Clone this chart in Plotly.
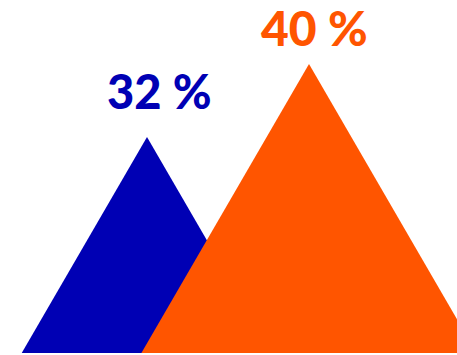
import plotly.graph_objects as go

categories = ["A", "B"]
values = [32, 40]
labels = ["32 %", "40 %"]
colors = ["#0000b4", "#ff5500"]

positions = list(range(len(categories)))
slope = 0.03267  # half-width (x units) per value unit

fig = go.Figure()
for pos, v, c in zip(positions, values, colors):
    hw = v * slope
    fig.add_trace(go.Scatter(
        x=[pos - hw, pos, pos + hw, pos - hw],
        y=[0, v, 0, 0],
        mode="lines", fill="toself", fillcolor=c,
        line=dict(width=0, color=c), hoverinfo="skip", showlegend=False,
    ))

shifts = [(12, 46, 47), (5, 36, 48)]
for pos, v, lab, c, (xs, ys, fs) in zip(positions, values, labels, colors, shifts):
    fig.add_annotation(
        x=pos, y=v, text=lab, showarrow=False,
        xshift=xs, yshift=ys, yanchor="middle", xanchor="center",
        font=dict(family="Lato", size=fs, color=c, weight=900),
    )

fig.update_layout(
    width=457, height=355,
    margin=dict(l=0, r=0, t=0, b=2),
    paper_bgcolor="white", plot_bgcolor="white",
    xaxis=dict(range=[-0.9074, 1.9136], visible=False),
    yaxis=dict(range=[8.33, 47.01], visible=False),
)
fig.write_html("out.html")
